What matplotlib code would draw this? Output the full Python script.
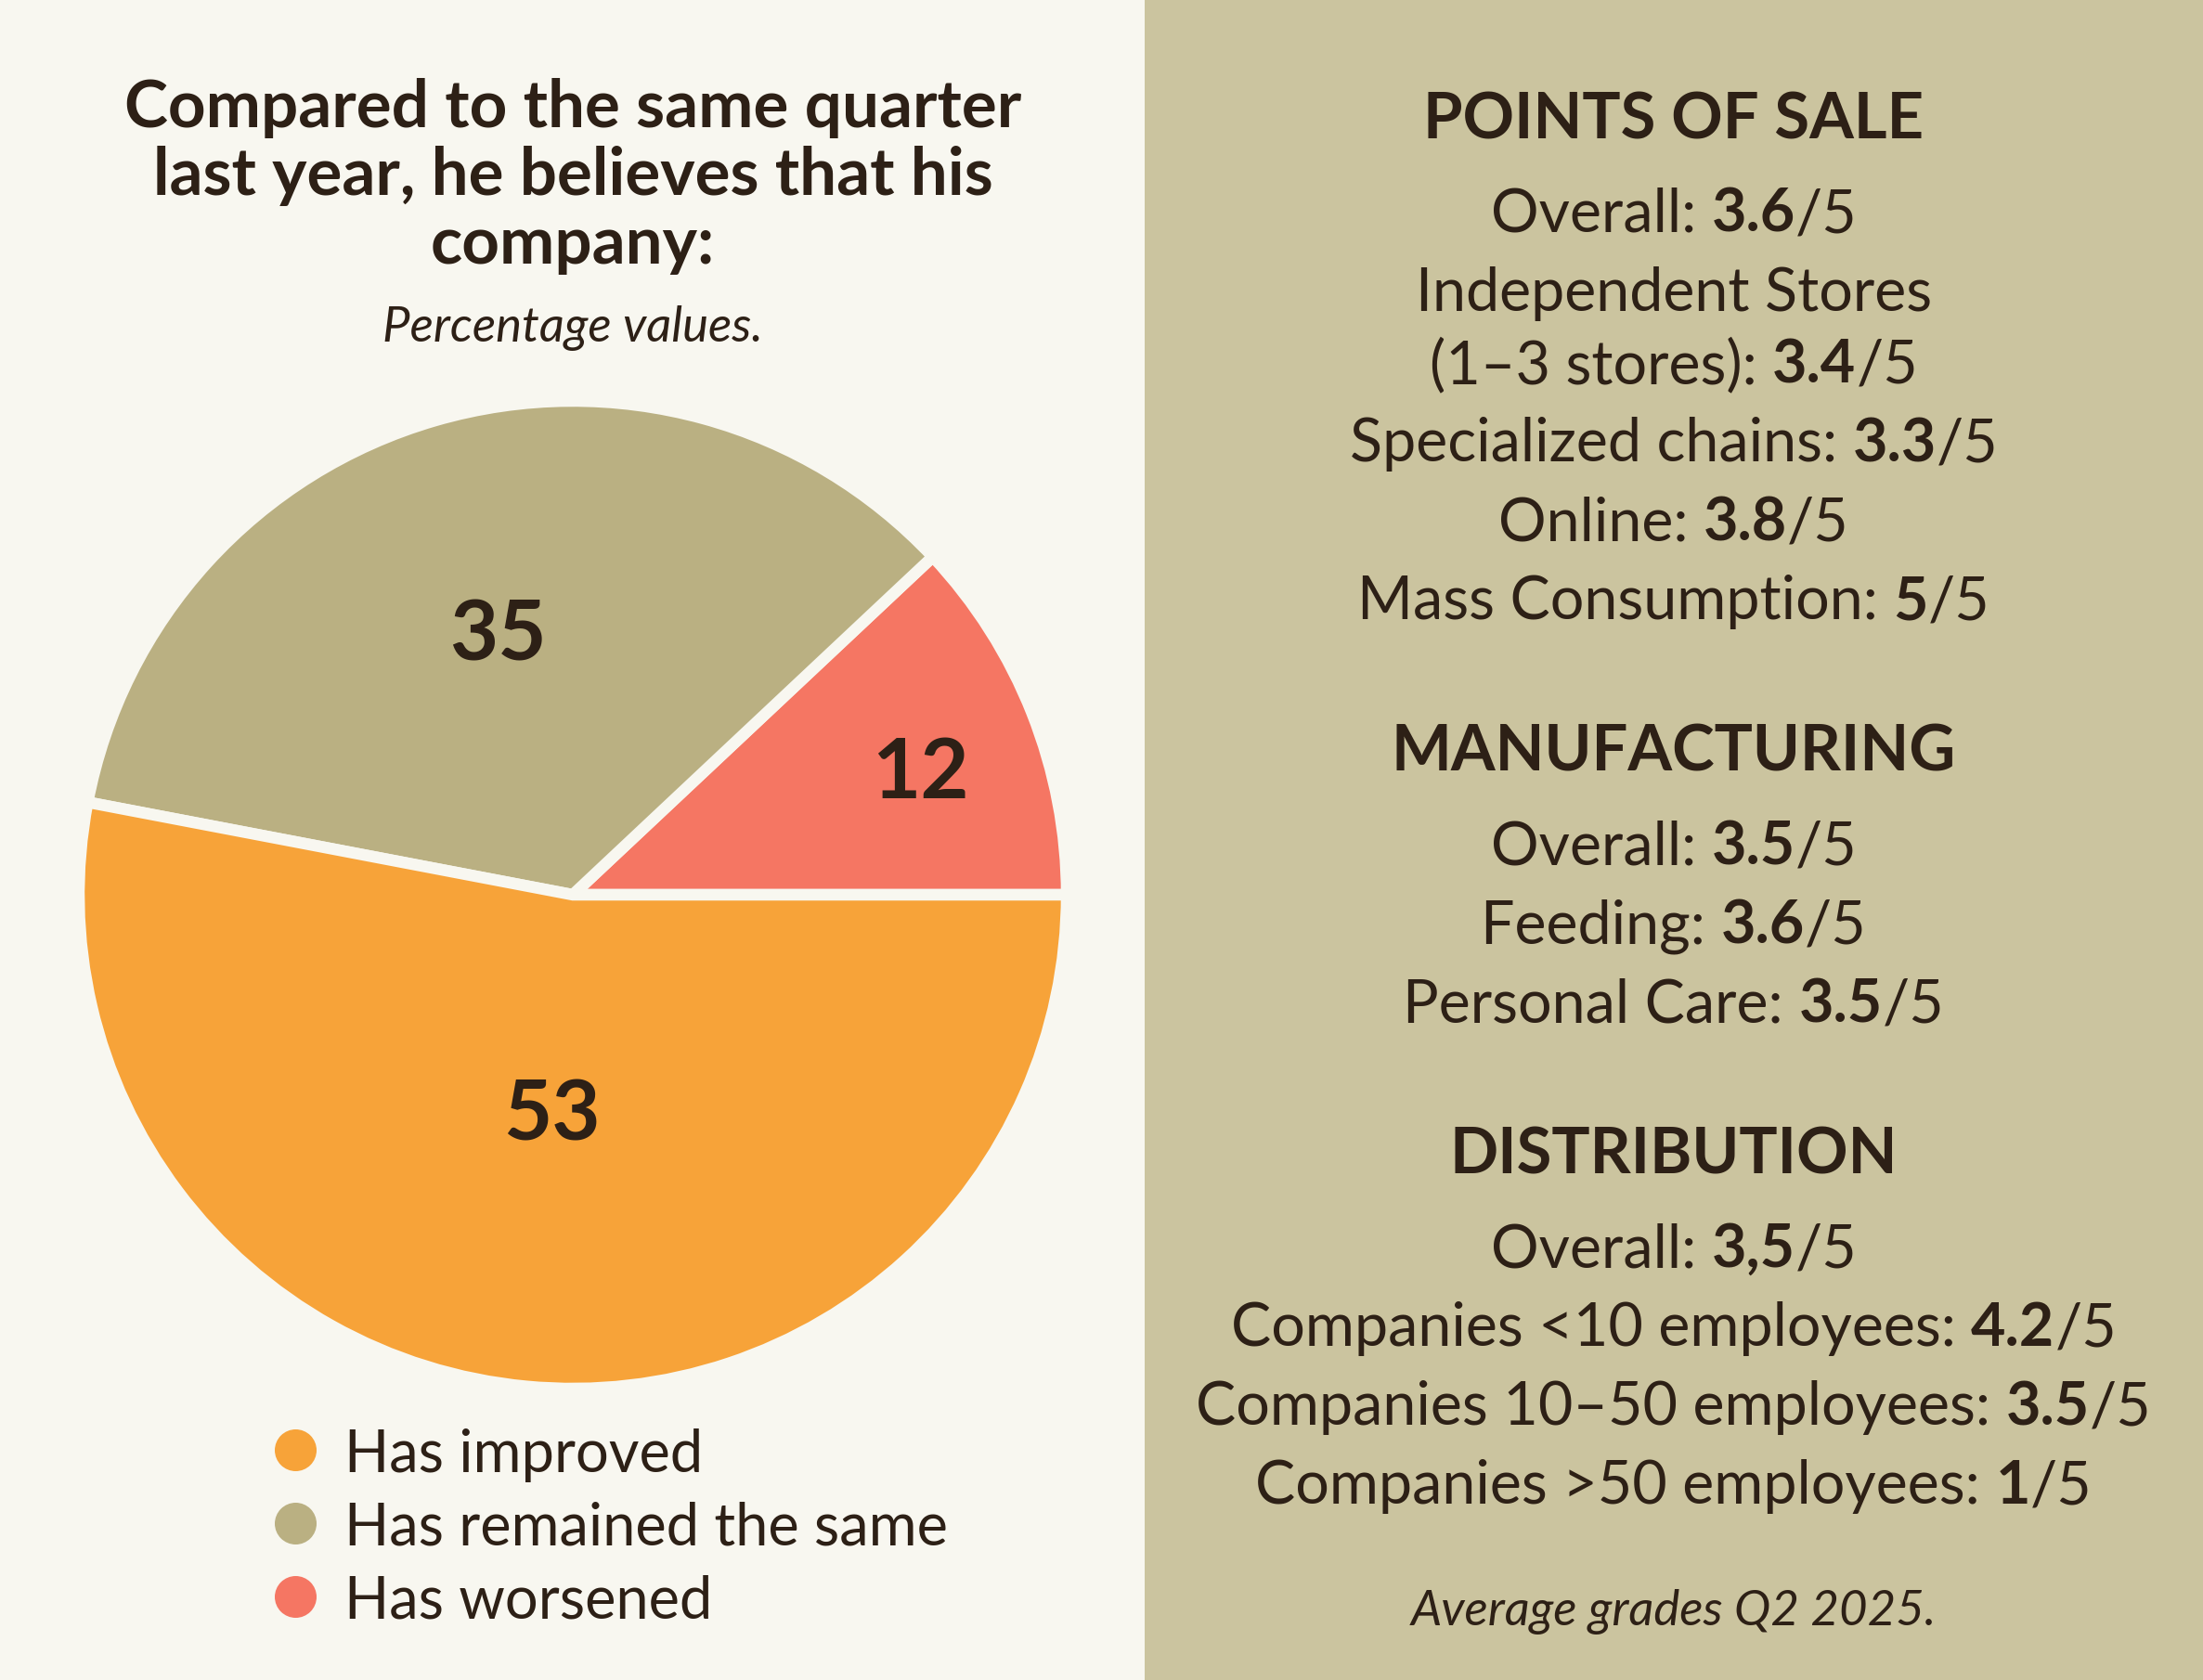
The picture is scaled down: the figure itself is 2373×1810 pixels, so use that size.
import numpy as np
import matplotlib
matplotlib.use("Agg")
import matplotlib.pyplot as plt
from matplotlib.patches import Rectangle

plt.rcParams['font.family'] = ['Lato', 'DejaVu Sans']

# pie data
pie_labels = ["Has improved", "Has remained the same", "Has worsened"]
pie_values = [53, 35, 12]
pie_colors = ["#f7a339", "#bab082", "#f57663"]

# right panel data
pos_labels = ["Overall", "Independent Stores\n(1–3 stores)", "Specialized chains", "Online", "Mass Consumption"]
pos_scores = ["3.6", "3.4", "3.3", "3.8", "5"]
mfg_labels = ["Overall", "Feeding", "Personal Care"]
mfg_scores = ["3.5", "3.6", "3.5"]
dist_labels = ["Overall", "Companies <10 employees", "Companies 10–50 employees", "Companies >50 employees"]
dist_scores = ["3,5", "4.2", "3.5", "1"]

title = "Compared to the same quarter\nlast year, he believes that his\ncompany:"
subtitle = "Percentage values."
footnote = "Average grades Q2 2025."

LEFT_BG = "#f8f7f0"
RIGHT_BG = "#cbc49f"
INK = "#2d2016"

W, H = 2373, 1810
fig = plt.figure(figsize=(W / 100, H / 100), dpi=100)
fig.patch.set_facecolor(LEFT_BG)

bg = fig.add_axes([0, 0, 1, 1])
bg.set_xlim(0, W)
bg.set_ylim(H, 0)
bg.axis('off')
split = 1233
bg.add_patch(Rectangle((split, 0), W - split, H, color=RIGHT_BG, lw=0))

# ---- left: title ----
bg.text(617, 190, title, ha='center', va='center', fontsize=51, fontweight='bold',
        color=INK, linespacing=1.16)
bg.text(617, 354, subtitle, ha='center', va='center', fontsize=38, style='italic', color=INK)

# ---- pie ----
cx, cy, R = 617, 964, 532
pad = 1.03
half = R * pad
pax = fig.add_axes([(cx - half) / W, (H - cy - half) / H, 2 * half / W, 2 * half / H])
pax.set_facecolor('none')
vals = pie_values[::-1]
cols = pie_colors[::-1]
wedges, _ = pax.pie(vals, colors=cols, startangle=0, counterclock=True,
                    wedgeprops=dict(edgecolor=LEFT_BG, linewidth=9))
pax.set_xlim(-pad, pad)
pax.set_ylim(-pad, pad)
label_dist = [0.745, 0.545, 0.45]
label_turn = [-2.5, 0.0, 0.0]
for w, v, d, t in zip(wedges, vals, label_dist, label_turn):
    a = np.deg2rad((w.theta1 + w.theta2) / 2 + t)
    pax.text(d * np.cos(a), d * np.sin(a), str(v), ha='center', va='center',
             fontsize=65, fontweight='bold', color=INK)

# ---- legend ----
for i, (lab, col) in enumerate(zip(pie_labels, pie_colors)):
    y = 1562 + i * 79
    bg.scatter([318], [y], s=1050, color=col, lw=0)
    bg.text(371, y, lab, ha='left', va='center_baseline', fontsize=45.5, color=INK)

# ---- right panel ----
renderer = fig.canvas.get_renderer()


def text_width(s, **kw):
    t = bg.text(0, 0, s, **kw)
    wdt = t.get_window_extent(renderer).width
    t.remove()
    return wdt


def mixed_line(xc, y, parts, size):
    # parts: list of (string, weight); spaces kept as non-breaking so they are measured
    widths = []
    for s, wt in parts:
        widths.append(text_width(s.replace(' ', '\u00a0'), fontsize=size, fontweight=wt))
    x = xc - sum(widths) / 2
    for (s, wt), wdt in zip(parts, widths):
        bg.text(x, y, s.replace(' ', '\u00a0'), ha='left', va='center_baseline',
                fontsize=size, fontweight=wt, color=INK)
        x += wdt


RX = 1803
BODY = 46.5
HEAD = 49.5
STEP = 85
WRAP = 77


def section(y, heading, labels, scores):
    bg.text(RX, y, heading, ha='center', va='center_baseline', fontsize=HEAD,
            fontweight='bold', color=INK)
    y += 102
    for lab, sc in zip(labels, scores):
        lines = lab.split('\n')
        for ln in lines[:-1]:
            bg.text(RX, y, ln, ha='center', va='center_baseline', fontsize=BODY, color=INK)
            y += WRAP
        mixed_line(RX, y, [(lines[-1] + ': ', 'normal'), (sc, 'bold'), ('/5', 'normal')], BODY)
        y += STEP
    return y


y_end = section(124, "POINTS OF SALE", pos_labels, pos_scores)
y_end = section(y_end + 77, "MANUFACTURING", mfg_labels, mfg_scores)
y_end = section(y_end + 77, "DISTRIBUTION", dist_labels, dist_scores)

bg.text(RX, 1736, footnote, ha='center', va='center', fontsize=38, style='italic', color=INK)

fig.savefig("out.png", dpi=100, facecolor=fig.get_facecolor())
